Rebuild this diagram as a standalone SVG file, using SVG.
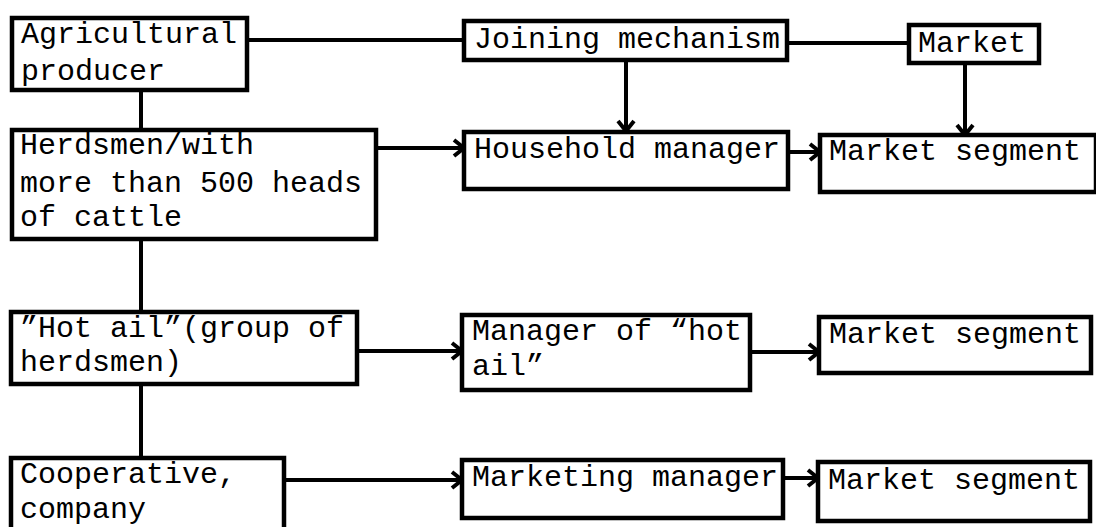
<svg xmlns="http://www.w3.org/2000/svg" width="1096" height="527" viewBox="0 0 1096 527">
<style>
.box{fill:#fff;stroke:#000;stroke-width:4.5}
.t{font-family:"Liberation Mono","Courier New",monospace;font-size:30px;fill:#000}
.c{fill:none;stroke:#000;stroke-width:4}
</style>
<defs>
<marker id="ah" markerUnits="userSpaceOnUse" markerWidth="16" markerHeight="20" refX="12" refY="9" orient="auto" viewBox="0 0 16 18">
<path d="M2,1 L12,9 L2,17" fill="none" stroke="#000" stroke-width="4"/>
</marker>
</defs>
<rect width="1096" height="527" fill="#fff"/>
<g id="connectors">
<line class="c" x1="141" y1="90" x2="141" y2="130"/>
<line class="c" x1="141" y1="239" x2="141" y2="312"/>
<line class="c" x1="141" y1="384" x2="141" y2="458"/>
<line class="c" x1="247" y1="40" x2="464" y2="40"/>
<line class="c" x1="787" y1="43" x2="909" y2="43"/>
<line class="c" x1="626" y1="60" x2="626" y2="131" marker-end="url(#ah)"/>
<line class="c" x1="965" y1="63" x2="965" y2="135" marker-end="url(#ah)"/>
<line class="c" x1="376" y1="148" x2="464" y2="148" marker-end="url(#ah)"/>
<line class="c" x1="788" y1="152" x2="820" y2="152" marker-end="url(#ah)"/>
<line class="c" x1="357" y1="351" x2="462" y2="351" marker-end="url(#ah)"/>
<line class="c" x1="750" y1="352" x2="819" y2="352" marker-end="url(#ah)"/>
<line class="c" x1="284" y1="480" x2="462" y2="480" marker-end="url(#ah)"/>
<line class="c" x1="783" y1="478" x2="818" y2="478" marker-end="url(#ah)"/>
</g>
<g id="agricultural-producer">
<rect class="box" x="12" y="18" width="235" height="72"/>
<text class="t" x="21" y="43">Agricultural</text>
<text class="t" x="21" y="80">producer</text>
</g>
<g id="herdsmen">
<rect class="box" x="12" y="130" width="364" height="109"/>
<text class="t" x="20" y="154">Herdsmen/with</text>
<text class="t" x="20" y="192">more than 500 heads</text>
<text class="t" x="20" y="226">of cattle</text>
</g>
<g id="hot-ail">
<rect class="box" x="11" y="312" width="346" height="72"/>
<text class="t" x="20" y="337">”Hot ail”(group of</text>
<text class="t" x="20" y="371">herdsmen)</text>
</g>
<g id="cooperative">
<rect class="box" x="11" y="458" width="273" height="75"/>
<text class="t" x="20" y="483">Cooperative,</text>
<text class="t" x="20" y="518">company</text>
</g>
<g id="joining-mechanism">
<rect class="box" x="464" y="21" width="323" height="39"/>
<text class="t" x="474" y="48">Joining mechanism</text>
</g>
<g id="market">
<rect class="box" x="909" y="25" width="130" height="38"/>
<text class="t" x="918" y="52">Market</text>
</g>
<g id="household-manager">
<rect class="box" x="464" y="132" width="324" height="57"/>
<text class="t" x="474" y="158">Household manager</text>
</g>
<g id="market-segment-1">
<rect class="box" x="820" y="135" width="276" height="57"/>
<text class="t" x="829" y="160">Market segment</text>
</g>
<g id="manager-hot-ail">
<rect class="box" x="462" y="315" width="288" height="75"/>
<text class="t" x="472" y="340">Manager of “hot</text>
<text class="t" x="472" y="375">ail”</text>
</g>
<g id="market-segment-2">
<rect class="box" x="819" y="317" width="272" height="56"/>
<text class="t" x="829" y="343">Market segment</text>
</g>
<g id="marketing-manager">
<rect class="box" x="462" y="460" width="321" height="58"/>
<text class="t" x="472" y="486">Marketing manager</text>
</g>
<g id="market-segment-3">
<rect class="box" x="818" y="462" width="272" height="59"/>
<text class="t" x="828" y="489">Market segment</text>
</g>
</svg>
